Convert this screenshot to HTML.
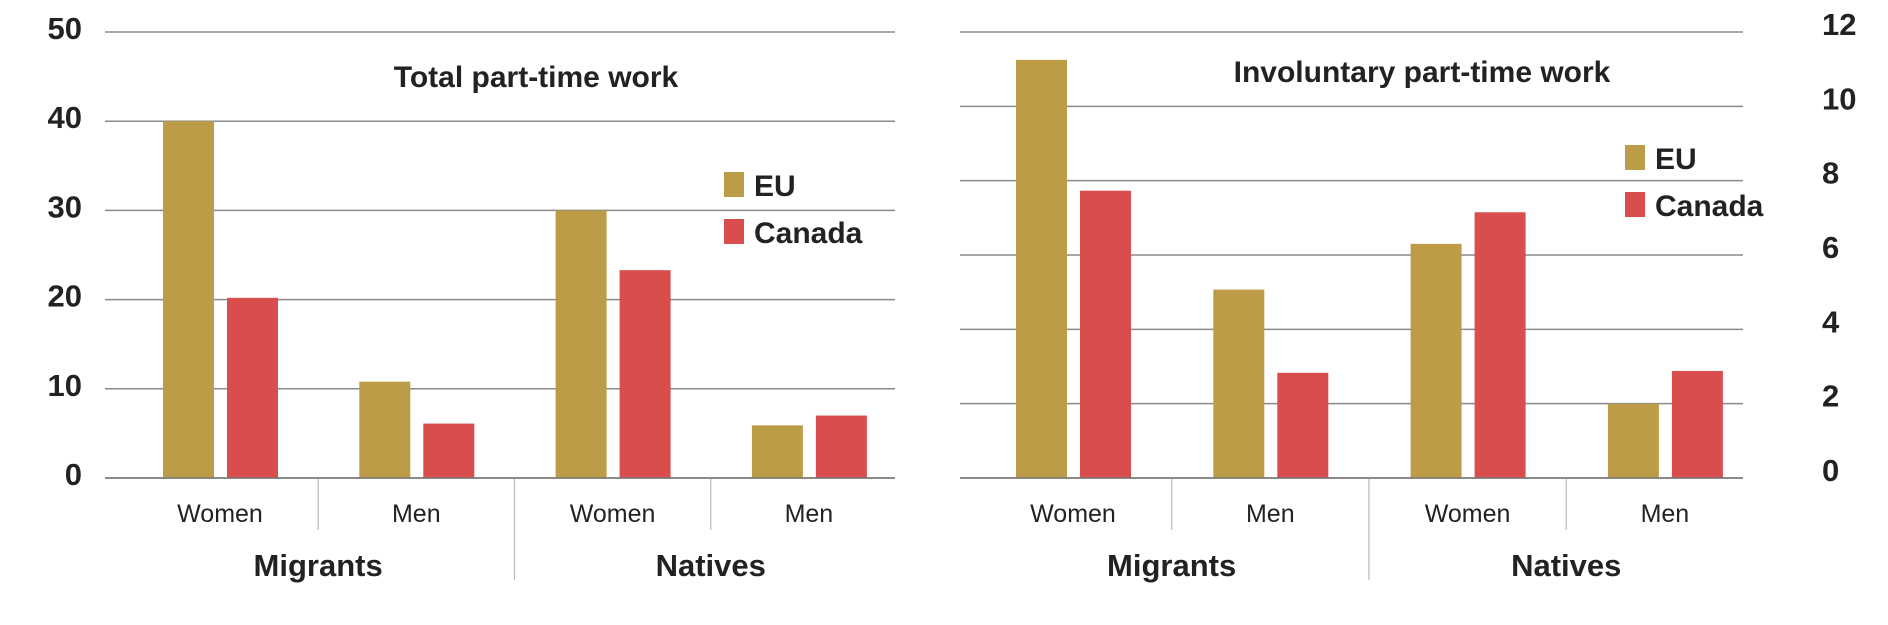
<!DOCTYPE html>
<html><head><meta charset="utf-8"><style>
body{margin:0;background:#fff;width:1888px;height:620px;overflow:hidden}
svg text{font-family:"Liberation Sans",sans-serif;fill:#222}
</style></head><body>
<svg id="c" width="1888" height="620"></svg>
<script>
const categories=["Women","Men","Women","Men"];
const groups=["Migrants","Natives"];
const leftEU=[40,10.8,30,5.9];
const leftCanada=[20.2,6.1,23.3,7.0];
const leftTicks=[0,10,20,30,40,50];
const rightEU=[11.25,5.07,6.3,2.0];
const rightCanada=[7.73,2.83,7.15,2.88];
const rightTicks=[0,2,4,6,8,10,12];
const NS="http://www.w3.org/2000/svg";
const svg=document.getElementById('c');
function mk(t,a,txt){const e=document.createElementNS(NS,t);for(const k in a)e.setAttribute(k,a[k]);if(txt!==undefined)e.textContent=txt;svg.appendChild(e);return e;}
function chart(o){
  const y=v=>478-(v/o.max)*446;
  const cx=i=>o.c0+i*o.step;
  o.ticks.forEach(t=>{
    const l=mk('line',{x1:o.x0,x2:o.x1,y1:y(t),y2:y(t),stroke:'#8a8a8a','stroke-width':1.5});
    
    
    const tx=mk('text',{x:o.tickX,y:y(t)+o.tickDy,'font-size':31,'font-weight':'bold','text-anchor':o.tickAnchor},t);
    
    
  });
  categories.forEach((c,i)=>{
    const e=o.eu[i],k=o.ca[i];
    const b1=mk('rect',{x:cx(i)-57,y:y(e),width:51,height:478-y(e),fill:'#bc9c47'});
    
    
    const b2=mk('rect',{x:cx(i)+7,y:y(k),width:51,height:478-y(k),fill:'#d94d4c'});
    
    
    const t=mk('text',{x:cx(i),y:522,'font-size':25,'text-anchor':'middle'},c);
    
    
    if(i>0){const d=mk('line',{x1:cx(i)-o.step/2,x2:cx(i)-o.step/2,y1:478,y2:i==2?580:530,stroke:'#bbb','stroke-width':1.2});
      
      }
  });
  groups.forEach((g,j)=>{
    const t=mk('text',{x:(cx(2*j)+cx(2*j+1))/2,y:576,'font-size':31,'font-weight':'bold','text-anchor':'middle'},g);
    
    
  });
  const ax=mk('line',{x1:o.x0,x2:o.x1,y1:478,y2:478,stroke:'#777','stroke-width':1.5});
  
  
  const ti=mk('text',{x:o.titleX,y:o.titleY+11,'font-size':30,'font-weight':'bold','text-anchor':'middle'},o.title);
  
  
  const s1=mk('rect',{x:o.lx,y:o.ly,width:20,height:25,fill:'#bc9c47'});
  
  
  const l1=mk('text',{x:o.lx+30,y:o.ly+24,'font-size':30,'font-weight':'bold'},'EU');
  
  
  const s2=mk('rect',{x:o.lx,y:o.ly+47,width:20,height:25,fill:'#d94d4c'});
  
  
  const l2=mk('text',{x:o.lx+30,y:o.ly+71,'font-size':30,'font-weight':'bold'},'Canada');
  
  
}
chart({eu:leftEU,ca:leftCanada,ticks:leftTicks,max:50,x0:105,x1:895,c0:220,step:196.3,tickX:82,tickDy:7,tickAnchor:'end',title:'Total part-time work',titleX:536,titleY:76,lx:724,ly:172});
chart({eu:rightEU,ca:rightCanada,ticks:rightTicks,max:12,x0:960,x1:1743,c0:1073,step:197.3,tickX:1822,tickDy:3,tickAnchor:'start',title:'Involuntary part-time work',titleX:1422,titleY:71,lx:1625,ly:145});
</script>
</body></html>
